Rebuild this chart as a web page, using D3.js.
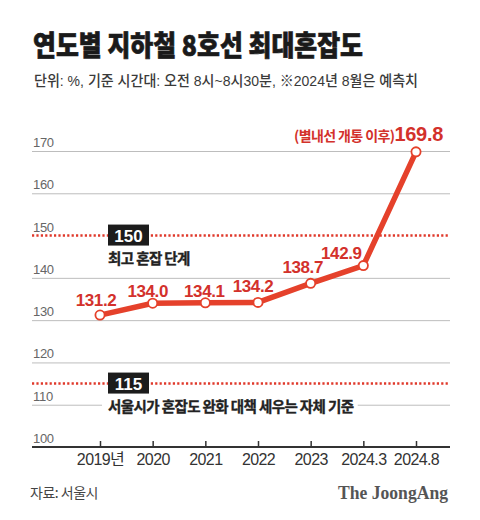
<!DOCTYPE html>
<html><head><meta charset="utf-8">
<script src="https://cdn.jsdelivr.net/npm/d3@7/dist/d3.min.js"></script>
<style>
html,body{margin:0;padding:0;background:#fff;}
svg{display:block;}
</style></head>
<body>
<svg id="chart" width="480" height="520"></svg>
<script>
// ---- data ----
const categories = ["2019년", "2020", "2021", "2022", "2023", "2024.3", "2024.8"];
const values = [131.2, 134.0, 134.1, 134.2, 138.7, 142.9, 169.8];
const valueLabels = ["131.2", "134.0", "134.1", "134.2", "138.7", "142.9", "169.8"];
const gridTicks = [100, 110, 120, 130, 140, 150, 160, 170];
const thresholds = [150, 115];
const thresholdNotes = ["최고 혼잡 단계", "서울시가 혼잡도 완화 대책 세우는 자체 기준"];
const lastNote = "(별내선 개통 이후)";
const title = "연도별 지하철 8호선 최대혼잡도";
const subtitle = "단위: %, 기준 시간대: 오전 8시~8시30분, ※2024년 8월은 예측치";
const source = "자료: 서울시";
const brand = "The JoongAng";

// ---- layout ----
const KR = "'Noto Sans CJK KR', sans-serif";
const NUM = "'Liberation Sans', Arial, 'Noto Sans CJK KR', sans-serif";
const RED = "#e5412b", LABEL_RED = "#d3312b";
const gridX0 = 32, gridX1 = 450;
const svg = d3.select("#chart");
svg.append("rect").attr("width", 480).attr("height", 520).attr("fill", "#fff");

const x = d3.scalePoint().domain(categories).range([100, 416]);
const y = d3.scaleLinear().domain([100, 170]).range([447, 151]);

// title & subtitle
svg.append("text").attr("x", 33).attr("y", 56).text(title)
  .attr("font-family", KR).attr("font-weight", 900).attr("font-size", 28)
  .attr("fill", "#1a1a1a").attr("stroke", "#1a1a1a").attr("stroke-width", 0.7)
  .attr("textLength", 330).attr("lengthAdjust", "spacingAndGlyphs");
svg.append("text").attr("x", 34).attr("y", 86).text(subtitle)
  .attr("font-family", NUM).attr("font-size", 15).attr("font-weight", 500)
  .attr("fill", "#3a3a3a").attr("textLength", 384).attr("lengthAdjust", "spacingAndGlyphs");

// gridlines (skip 100 = axis, 150 = threshold)
const g = svg.append("g");
g.selectAll("line.grid").data(gridTicks.filter(t => t !== 100 && t !== 150))
  .join("line").attr("class", "grid")
  .attr("x1", gridX0).attr("x2", gridX1)
  .attr("y1", d => y(d) + 0.5).attr("y2", d => y(d) + 0.5)
  .attr("stroke", "#bdbdbd").attr("stroke-width", 1);
g.selectAll("text.glabel").data(gridTicks).join("text").attr("class", "glabel")
  .attr("x", 33).attr("y", d => y(d) - 4).text(d => d)
  .attr("font-family", NUM).attr("font-size", 13).attr("fill", "#666")
  .attr("letter-spacing", -0.3);

// threshold lines
thresholds.forEach((t, i) => {
  svg.append("line").attr("x1", gridX0).attr("x2", gridX1)
    .attr("y1", y(t)).attr("y2", y(t))
    .attr("stroke", "#e0392b").attr("stroke-width", 2.6)
    .attr("stroke-dasharray", "2.2,2.2");
  svg.append("rect").attr("x", 108).attr("y", y(t) - 11).attr("width", 41).attr("height", 21)
    .attr("fill", "#1c1c1c");
  svg.append("text").attr("x", 128.5).attr("y", y(t) + 6).attr("text-anchor", "middle")
    .text(t).attr("font-family", NUM).attr("font-weight", 700).attr("font-size", 17)
    .attr("fill", "#fff");
  const ty = y(t) + 28;
  const bg = svg.append("rect").attr("fill", "#fff");
  const note = svg.append("text").attr("x", 108).attr("y", ty).text(thresholdNotes[i])
    .attr("font-family", KR).attr("font-weight", 700).attr("font-size", 14.5)
    .attr("fill", "#222").attr("stroke", "#222").attr("stroke-width", 0.35)
    .attr("letter-spacing", -0.6);
  const bb = note.node().getBBox();
  bg.attr("x", bb.x - 6).attr("y", bb.y + 2).attr("width", bb.width + 10).attr("height", bb.height - 4);
});

// axis
svg.append("line").attr("x1", gridX0).attr("x2", gridX1).attr("y1", y(100)).attr("y2", y(100))
  .attr("stroke", "#333").attr("stroke-width", 2);
const axis = svg.append("g").attr("transform", `translate(0,${y(100)})`)
  .call(d3.axisBottom(x).tickSize(-6).tickPadding(7));
axis.select(".domain").remove();
axis.selectAll(".tick line").attr("stroke", "#333").attr("stroke-width", 1.5);
axis.selectAll(".tick text").attr("font-family", NUM).attr("font-size", 16)
  .attr("fill", "#333").attr("letter-spacing", -0.6);

// line
const pts = categories.map((c, i) => [x(c), y(values[i])]);
svg.append("path").datum(pts).attr("d", d3.line())
  .attr("fill", "none").attr("stroke", RED).attr("stroke-width", 5.5)
  .attr("stroke-linejoin", "round").attr("stroke-linecap", "round");
svg.selectAll("circle.pt").data(pts).join("circle").attr("class", "pt")
  .attr("cx", d => d[0]).attr("cy", d => d[1]).attr("r", 4.6)
  .attr("fill", "#fff").attr("stroke", RED).attr("stroke-width", 1.8);

// value labels
const labelDx = [-4, -5, -1, -5, -8, -22, 0];
const labelDy = [-9, -6, -6, -10, -10, -7, -11];
valueLabels.forEach((v, i) => {
  const [px, py] = pts[i];
  if (i === values.length - 1) {
    const t = svg.append("text").attr("x", 443).attr("y", py + labelDy[i])
      .attr("text-anchor", "end").attr("fill", LABEL_RED).attr("font-family", NUM).attr("font-weight", 700);
    t.append("tspan").text(lastNote).attr("font-family", KR).attr("font-size", 14).attr("letter-spacing", -0.6);
    t.append("tspan").text(v).attr("font-size", 20).attr("letter-spacing", -0.3);
  } else {
    svg.append("text").attr("x", px + labelDx[i]).attr("y", py + labelDy[i])
      .attr("text-anchor", "middle").text(v)
      .attr("font-family", NUM).attr("font-weight", 700).attr("font-size", 17)
      .attr("fill", LABEL_RED).attr("letter-spacing", -0.4);
  }
});

// footer
svg.append("text").attr("x", 30).attr("y", 498).text(source)
  .attr("font-family", KR).attr("font-size", 14).attr("fill", "#444").attr("letter-spacing", -0.5);
svg.append("text").attr("x", 448).attr("y", 499).attr("text-anchor", "end").text(brand)
  .attr("font-family", "'Liberation Serif', 'DejaVu Serif', serif").attr("font-weight", 700)
  .attr("font-size", 18).attr("fill", "#555").attr("textLength", 110).attr("lengthAdjust", "spacingAndGlyphs");
</script>
</body></html>
